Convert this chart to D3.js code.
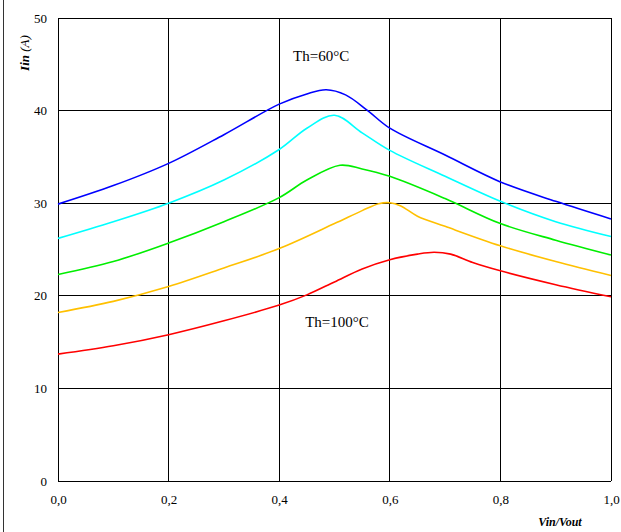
<!DOCTYPE html>
<meta charset="utf-8">
<style>
body { margin: 0; background: #fff; }
text { font-family: "Liberation Serif", "Times New Roman", serif; fill: #000; }
.grid line { stroke: #000; stroke-width: 1px; shape-rendering: crispEdges; }
.line { fill: none; stroke-width: 1.6px; }
</style>
<svg width="621" height="532"></svg>
<script src="https://d3js.org/d3.v7.min.js"></script>
<script>

// data (Vin/Vout vs Iin in A)
var blueX  = [0, 0.1, 0.2, 0.3, 0.4, 0.45, 0.485, 0.52, 0.56, 0.6, 0.7, 0.8, 0.9, 1.0];
var blueY  = [29.9, 31.9, 34.3, 37.4, 40.7, 41.8, 42.25, 41.7, 40.0, 38.1, 35.2, 32.3, 30.2, 28.3];
var cyanX  = [0, 0.1, 0.2, 0.3, 0.4, 0.45, 0.5, 0.55, 0.6, 0.7, 0.8, 0.9, 1.0];
var cyanY  = [26.2, 28.0, 30.0, 32.5, 35.8, 38.1, 39.5, 37.6, 35.7, 32.9, 30.2, 28.0, 26.4];
var greenX = [0, 0.1, 0.2, 0.3, 0.4, 0.45, 0.51, 0.55, 0.6, 0.7, 0.8, 0.9, 1.0];
var greenY = [22.3, 23.7, 25.7, 28.0, 30.6, 32.5, 34.1, 33.7, 32.9, 30.5, 27.8, 26.0, 24.4];
var orangeX = [0, 0.1, 0.2, 0.3, 0.4, 0.5, 0.55, 0.58, 0.6, 0.62, 0.65, 0.7, 0.8, 0.9, 1.0];
var orangeY = [18.2, 19.4, 21.0, 23.0, 25.1, 27.8, 29.2, 29.95, 30.05, 29.7, 28.6, 27.5, 25.4, 23.7, 22.2];
var redX   = [0, 0.1, 0.2, 0.3, 0.4, 0.45, 0.5, 0.55, 0.6, 0.65, 0.68, 0.71, 0.75, 0.8, 0.9, 1.0];
var redY   = [13.7, 14.6, 15.8, 17.3, 19.0, 20.1, 21.5, 22.9, 23.9, 24.5, 24.7, 24.5, 23.6, 22.7, 21.2, 19.9];

var xTicks = [0, 0.2, 0.4, 0.6, 0.8, 1.0];
var yTicks = [0, 10, 20, 30, 40, 50];

var series = [
  {color: "#0000ff", xs: blueX, ys: blueY},
  {color: "#00ffff", xs: cyanX, ys: cyanY},
  {color: "#00ee00", xs: greenX, ys: greenY},
  {color: "#ffc000", xs: orangeX, ys: orangeY},
  {color: "#ff0000", xs: redX, ys: redY}
];

var serif = "'Liberation Serif', 'Times New Roman', serif";

var svg = d3.select("svg");

var margin = {top: 18, right: 10, bottom: 51, left: 58},
    width = +svg.attr("width") - margin.left - margin.right,
    height = +svg.attr("height") - margin.top - margin.bottom;

// outer frame line on the left
svg.append("line")
    .attr("x1", 3.5).attr("x2", 3.5)
    .attr("y1", 0).attr("y2", 532)
    .attr("stroke", "#333");

var g = svg.append("g")
    .attr("transform", "translate(" + margin.left + "," + margin.top + ")");

var x = d3.scaleLinear().domain([0, 1]).range([0, width]);
var y = d3.scaleLinear().domain([0, 50]).range([height, 0]);

// grid
var grid = g.append("g").attr("class", "grid");
grid.selectAll(".v").data(xTicks).enter().append("line")
    .attr("x1", function(d) { return x(d); }).attr("x2", function(d) { return x(d); })
    .attr("y1", 0).attr("y2", height);
grid.selectAll(".h").data(yTicks).enter().append("line")
    .attr("x1", 0).attr("x2", width)
    .attr("y1", function(d) { return y(d); }).attr("y2", function(d) { return y(d); });

// axes (labels only, lines come from the grid)
var fmt = function(d) { return d3.format(".1f")(d).replace(".", ","); };

g.append("g")
    .attr("transform", "translate(0," + height + ")")
    .call(d3.axisBottom(x).tickValues(xTicks).tickFormat(fmt).tickSize(0).tickPadding(14))
    .attr("font-family", serif)
    .attr("font-size", 13)
    .call(function(a) { a.select(".domain").remove(); });

g.append("g")
    .call(d3.axisLeft(y).tickValues(yTicks).tickSize(0).tickPadding(11))
    .attr("font-family", serif)
    .attr("font-size", 13)
    .call(function(a) { a.select(".domain").remove(); });

// lines
var line = d3.line()
    .curve(d3.curveCatmullRom.alpha(0.5))
    .x(function(d) { return x(d[0]); })
    .y(function(d) { return y(d[1]); });

g.selectAll(".line")
    .data(series)
  .enter().append("path")
    .attr("class", "line")
    .style("stroke", function(d) { return d.color; })
    .attr("d", function(d) { return line(d3.zip(d.xs, d.ys)); });

// annotations
g.append("text")
    .attr("x", x(0.425)).attr("y", y(45.4))
    .style("font-size", "15px")
    .text("Th=60°C");

g.append("text")
    .attr("x", x(0.447)).attr("y", y(16.6))
    .style("font-size", "15px")
    .text("Th=100°C");

// axis titles
svg.append("text")
    .attr("x", 560).attr("y", 526)
    .attr("text-anchor", "middle")
    .style("font-size", "12px")
    .style("font-weight", "bold")
    .style("font-style", "italic")
    .text("Vin/Vout");

var yt = svg.append("text")
    .attr("transform", "translate(29,53) rotate(-90)")
    .attr("text-anchor", "middle")
    .style("font-size", "13px")
    .style("font-style", "italic");
yt.append("tspan").style("font-weight", "bold").text("Iin");
yt.append("tspan").text(" (A)");

</script>
